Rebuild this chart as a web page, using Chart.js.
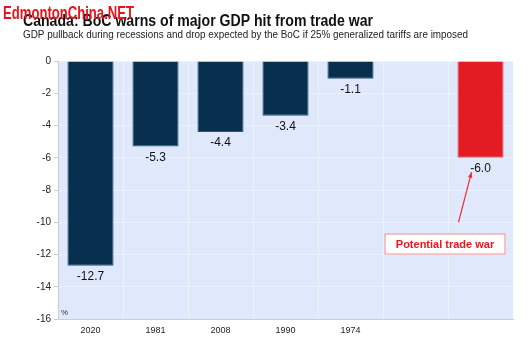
<!DOCTYPE html>
<html lang="en">
<head>
    <meta charset="UTF-8">
    <title>Canada: BoC warns of major GDP hit from trade war</title>
    <script src="https://cdn.jsdelivr.net/npm/chart.js"></script>
    <style>
        html, body { margin: 0; padding: 0; background: #fff; }
        #wrap { position: relative; width: 530px; height: 342px; }
    </style>
</head>
<body>
    <div id="wrap"><canvas id="gdpChart" width="530" height="342"></canvas></div>

    <script>
        // data
        const periods = ['2020', '1981', '2008', '1990', '1974', '', ''];
        const gdpDrop = [-12.7, -5.3, -4.4, -3.4, -1.1, null, -6.0];
        const barColors = ['#06304d', '#06304d', '#06304d', '#06304d', '#06304d', '#06304d', '#e31b23'];
        const barEdges = ['#2b5677', '#2b5677', '#2b5677', '#2b5677', '#2b5677', '#2b5677', '#ec5a60'];
        const yTicks = [0, -2, -4, -6, -8, -10, -12, -14, -16];

        const titleText = 'Canada: BoC warns of major GDP hit from trade war';
        const subtitleText = 'GDP pullback during recessions and drop expected by the BoC if 25% generalized tariffs are imposed';
        const noteText = 'Potential trade war';
        const noteIndex = 6;

        const font = '"Liberation Sans", Arial, sans-serif';

        function fitText(ctx, text, x, y, width) {
            const w = ctx.measureText(text).width;
            ctx.save();
            ctx.translate(x, y);
            ctx.scale(width / w, 1);
            ctx.fillText(text, 0, 0);
            ctx.restore();
        }

        const extras = {
            id: 'extras',
            beforeDraw(chart) {
                const { ctx, chartArea: a } = chart;
                ctx.save();
                ctx.fillStyle = '#e0e9fb';
                ctx.fillRect(a.left, a.top, a.right - a.left, a.bottom - a.top);
                ctx.restore();
            },
            afterDraw(chart) {
                const { ctx, chartArea: a } = chart;
                const xs = chart.scales.x, ys = chart.scales.y;
                ctx.save();

                // value labels under bars
                ctx.fillStyle = '#111';
                ctx.font = '12px ' + font;
                ctx.textAlign = 'center';
                ctx.textBaseline = 'top';
                gdpDrop.forEach((v, i) => {
                    if (v === null) return;
                    ctx.fillText(v.toFixed(1), xs.getPixelForValue(i), ys.getPixelForValue(v) + 5);
                });

                // unit
                ctx.font = '8px ' + font;
                ctx.textAlign = 'left';
                ctx.textBaseline = 'bottom';
                ctx.fillStyle = '#333';
                ctx.fillText('%', a.left + 3, a.bottom - 2);

                // annotation box + arrow
                const cx = xs.getPixelForValue(noteIndex);
                const headX = cx - 9, headY = ys.getPixelForValue(-6.9);
                const tailX = cx - 22, tailY = ys.getPixelForValue(-10.0);
                ctx.strokeStyle = '#e8343c';
                ctx.fillStyle = '#e8343c';
                ctx.lineWidth = 1.2;
                ctx.beginPath();
                ctx.moveTo(tailX, tailY);
                ctx.lineTo(headX, headY);
                ctx.stroke();
                const ang = Math.atan2(headY - tailY, headX - tailX);
                ctx.beginPath();
                ctx.moveTo(headX, headY);
                ctx.lineTo(headX - 6 * Math.cos(ang - 0.4), headY - 6 * Math.sin(ang - 0.4));
                ctx.lineTo(headX - 6 * Math.cos(ang + 0.4), headY - 6 * Math.sin(ang + 0.4));
                ctx.closePath();
                ctx.fill();

                const boxL = cx - 96, boxR = cx + 25;
                const boxT = ys.getPixelForValue(-10.7), boxB = ys.getPixelForValue(-12.0);
                ctx.fillStyle = '#ffffff';
                ctx.fillRect(boxL, boxT, boxR - boxL, boxB - boxT);
                ctx.lineWidth = 1;
                ctx.strokeStyle = '#f08a8e';
                ctx.strokeRect(boxL + 0.5, boxT + 0.5, boxR - boxL - 1, boxB - boxT - 1);
                ctx.fillStyle = '#f0141e';
                ctx.font = 'bold 11px ' + font;
                ctx.textAlign = 'center';
                ctx.textBaseline = 'middle';
                ctx.fillText(noteText, (boxL + boxR) / 2, (boxT + boxB) / 2 + 1);

                // title and subtitle
                ctx.textAlign = 'left';
                ctx.textBaseline = 'alphabetic';
                ctx.fillStyle = '#111';
                ctx.font = 'bold 16px ' + font;
                fitText(ctx, titleText, 23, 26, 350);
                ctx.font = '10.5px ' + font;
                ctx.fillStyle = '#222';
                fitText(ctx, subtitleText, 23, 38, 445);

                // watermark
                ctx.fillStyle = '#e8141c';
                ctx.font = 'bold 18px ' + font;
                fitText(ctx, 'EdmontonChina.NET', 3, 19, 131);
                ctx.restore();
            }
        };

        new Chart(document.getElementById('gdpChart'), {
            type: 'bar',
            data: {
                labels: periods,
                datasets: [{
                    data: gdpDrop,
                    backgroundColor: barColors,
                    borderColor: barEdges,
                    borderWidth: 1,
                    categoryPercentage: 1,
                    barPercentage: 0.71
                }]
            },
            options: {
                responsive: false,
                animation: false,
                layout: { padding: { top: 61, right: 17, left: 0, bottom: 0 } },
                plugins: {
                    legend: { display: false },
                    tooltip: { enabled: false }
                },
                scales: {
                    x: {
                        grid: { color: 'rgba(255,255,255,0.4)', offset: true, drawTicks: false },
                        border: { color: '#c9cfda' },
                        ticks: { color: '#222', font: { family: font, size: 9 }, padding: 6 },
                        afterFit(s) { s.height = 23; }
                    },
                    y: {
                        min: -16,
                        max: 0,
                        afterBuildTicks(s) { s.ticks = yTicks.map(v => ({ value: v })); },
                        grid: { color: 'rgba(255,255,255,0.4)', tickColor: '#c9cfda', tickLength: 4 },
                        border: { color: '#c9cfda' },
                        ticks: { color: '#222', font: { family: font, size: 10 }, padding: 3 },
                        afterFit(s) { s.width = 58; }
                    }
                }
            },
            plugins: [extras]
        });
    </script>
</body>
</html>
